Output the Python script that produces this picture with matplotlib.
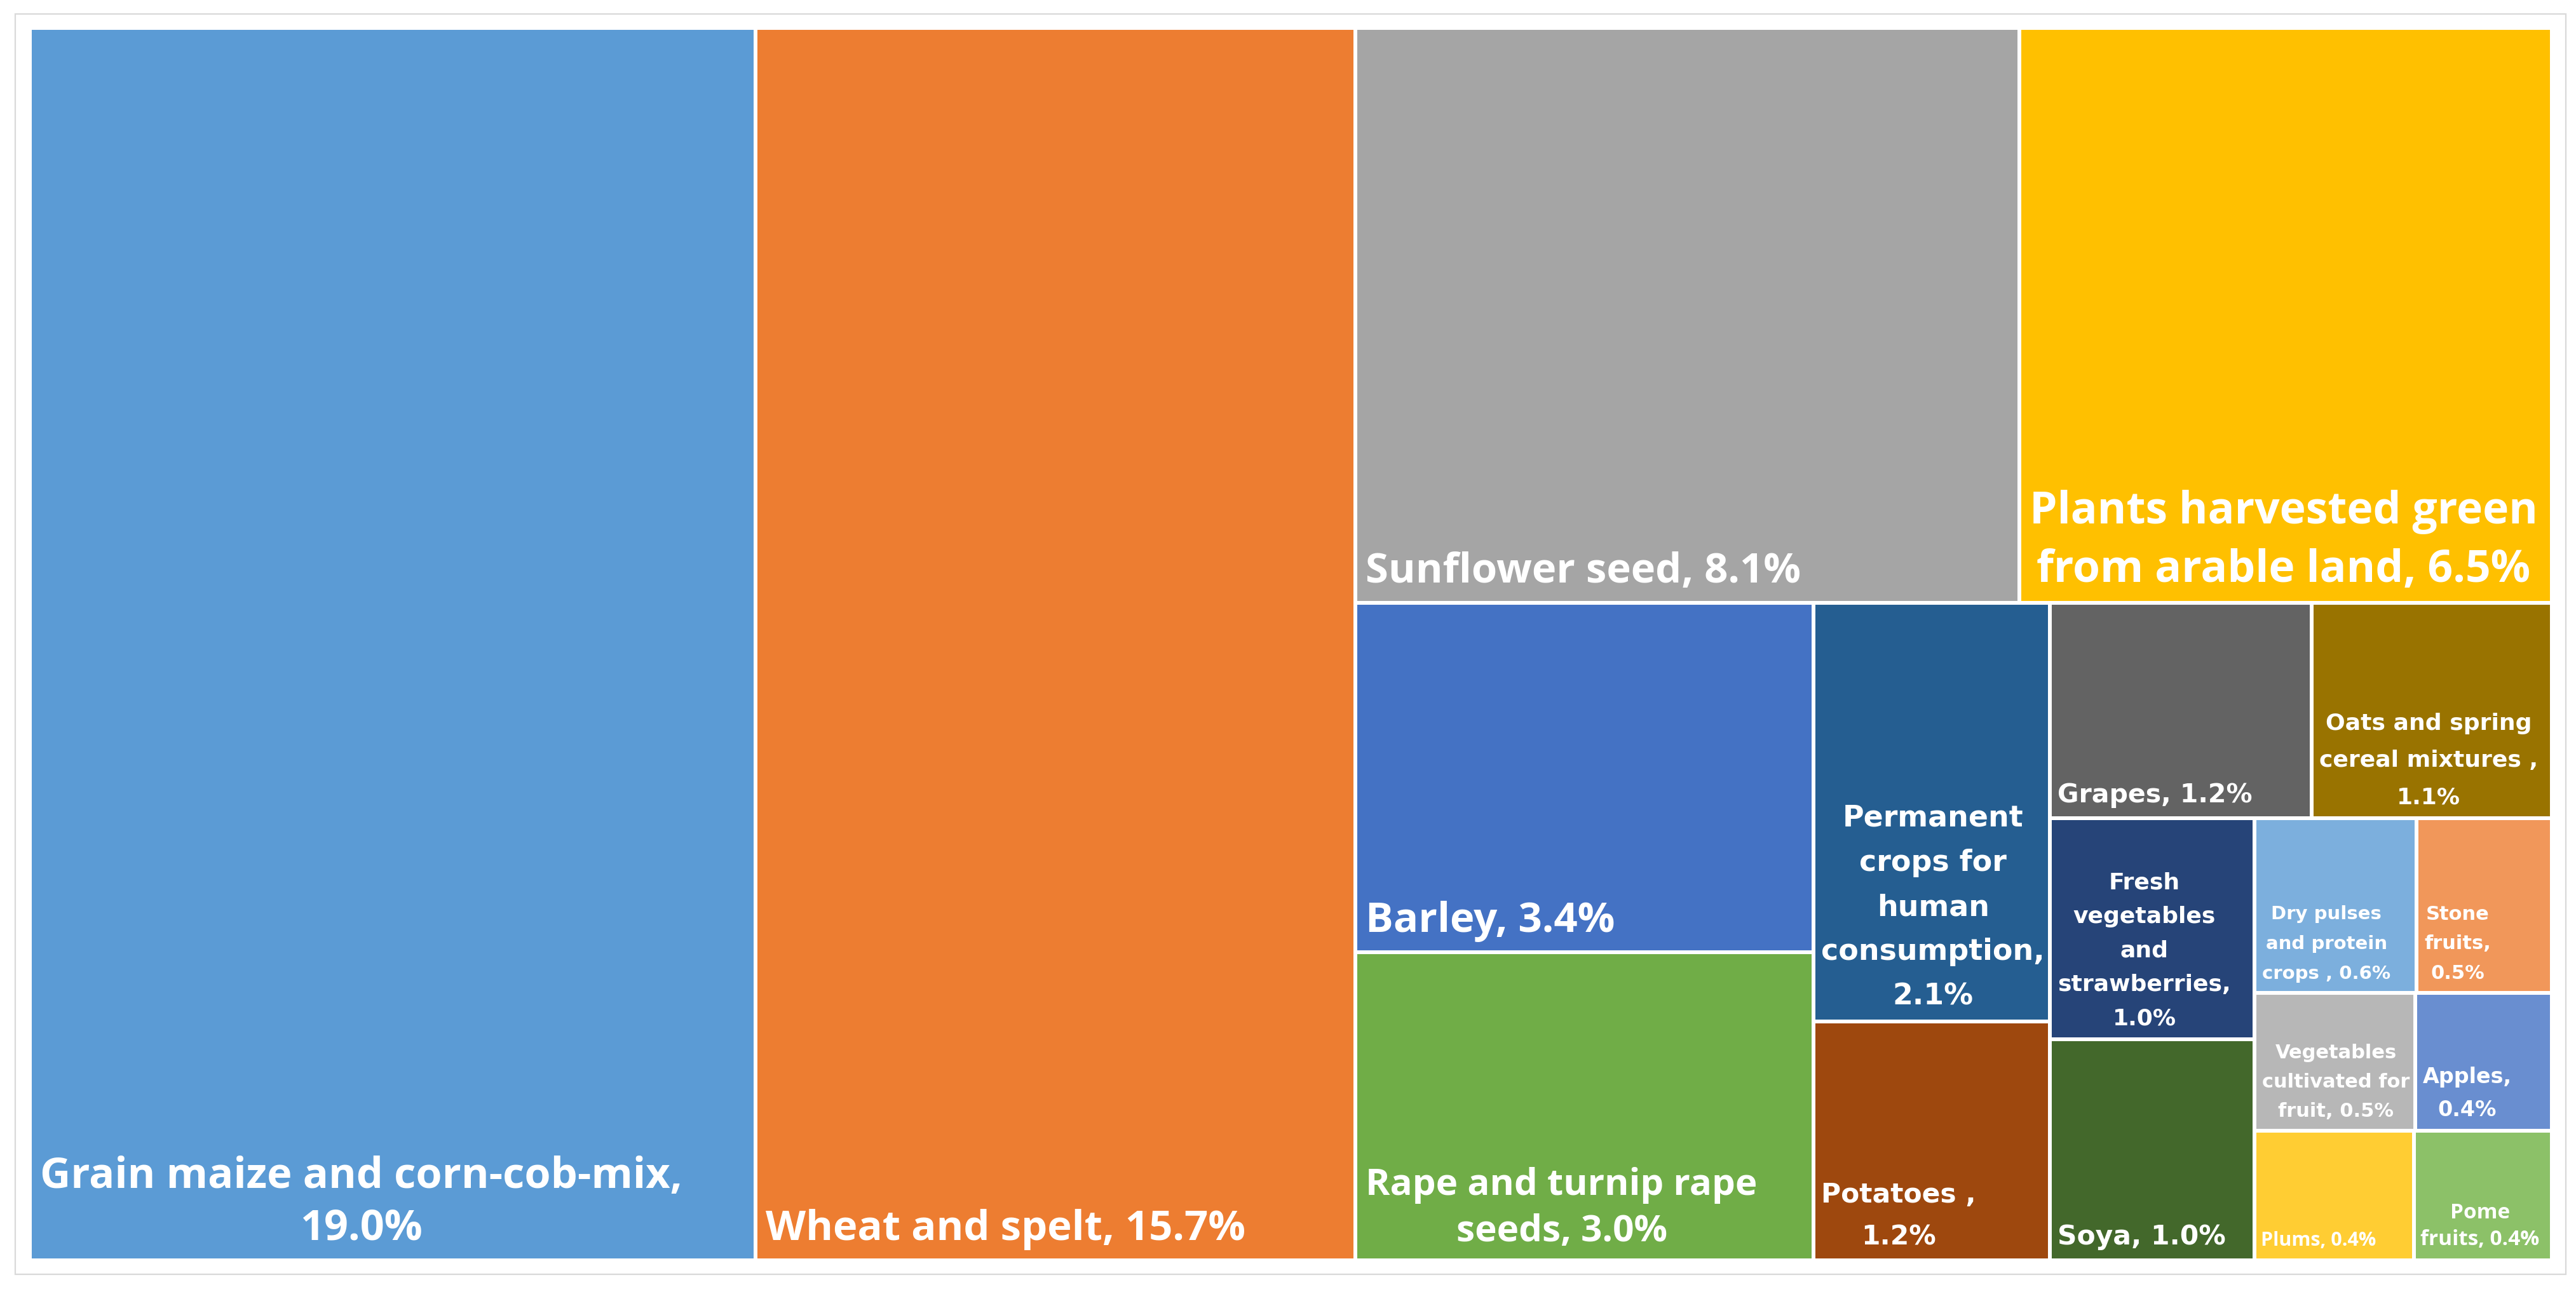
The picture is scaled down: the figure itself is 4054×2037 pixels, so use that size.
import matplotlib
matplotlib.use('Agg')
import matplotlib.pyplot as plt
from matplotlib.patches import Rectangle

# crop shares (% of total), in drawing order; small ones
crops = ['Grain maize and corn-cob-mix', 'Wheat and spelt', 'Sunflower seed',
         'Plants harvested green from arable land', 'Barley', 'Rape and turnip rape seeds',
         'Permanent crops for human consumption', 'Potatoes', 'Grapes',
         'Oats and spring cereal mixtures', 'Fresh vegetables and strawberries', 'Soya',
         'Dry pulses and protein crops', 'Stone fruits', 'Vegetables cultivated for fruit',
         'Apples', 'Plums', 'Pome fruits']
shares = [19.0, 15.7, 8.1, 6.5, 3.4, 3.0, 2.1, 1.2, 1.2, 1.1, 0.96, 0.96,
          0.6, 0.5, 0.47, 0.40, 0.44, 0.38]
labels = ['Grain maize and corn-cob-mix,\n{:.1f}%', 'Wheat and spelt, {:.1f}%',
          'Sunflower seed, {:.1f}%', 'Plants harvested green\nfrom arable land, {:.1f}%',
          'Barley, {:.1f}%', 'Rape and turnip rape\nseeds, {:.1f}%',
          'Permanent\ncrops for\nhuman\nconsumption,\n{:.1f}%', 'Potatoes ,\n{:.1f}%',
          'Grapes, {:.1f}%', 'Oats and spring\ncereal mixtures ,\n{:.1f}%',
          'Fresh\nvegetables\nand\nstrawberries,\n{:.1f}%', 'Soya, {:.1f}%',
          'Dry pulses\nand protein\ncrops , {:.1f}%', 'Stone\nfruits,\n{:.1f}%',
          'Vegetables\ncultivated for\nfruit, {:.1f}%', 'Apples,\n{:.1f}%',
          'Plums, {:.1f}%', 'Pome\nfruits, {:.1f}%']

colors = ['#5B9BD5', '#ED7D31', '#A5A5A5', '#FFC000', '#4472C4', '#70AD47',
          '#255E91', '#9E480E', '#636363', '#997300', '#264478', '#43682B',
          '#7CAFDD', '#F1975A', '#B7B7B7', '#698ED0', '#FFCD33', '#8CC168']
sizes = [48, 47, 47, 50, 47, 42, 33, 30.5, 29.5, 26, 26, 30.5, 21, 22, 22, 24, 22, 24]
fams = ['Open Sans'] * 6 + ['DejaVu Sans'] * 10 + ['Open Sans'] * 2
spacing = [1.3, 1.3, 1.3, 1.4, 1.3, 1.35, 1.72, 1.72, 1.72, 1.9, 1.72, 1.72,
           1.85, 1.75, 1.72, 1.72, 1.35, 1.35]
pads = [16] * 6 + [12] * 10 + [10] * 2

# how the treemap is cut: strips taken from the remaining space
strips = [([0], 'col'), ([1], 'col'), ([2, 3], 'row'), ([4, 5], 'col'),
          ([6, 7], 'col'), ([8, 9], 'row'), ([10, 11], 'col'), ([12, 13], 'row'),
          ([14, 15], 'row'), ([16, 17], 'row')]


def layout(values, strips, x, y, w, h):
    rects = {}
    left = sum(values)
    for idx, kind in strips:
        part = sum(values[i] for i in idx)
        if kind == 'col':
            sw = w * part / left
            yy = y
            for i in idx:
                ih = h * values[i] / part
                rects[i] = (x, yy, sw, ih)
                yy += ih
            x += sw
            w -= sw
        else:
            sh = h * part / left
            xx = x
            for i in idx:
                iw = w * values[i] / part
                rects[i] = (xx, y, iw, sh)
                xx += iw
            y += sh
            h -= sh
        left -= part
    return rects


W, H = 4055, 2037
fig = plt.figure(figsize=(W / 100, H / 100), dpi=100)
ax = fig.add_axes([0, 0, 1, 1])
ax.set_xlim(0, W)
ax.set_ylim(H, 0)
ax.axis('off')

ax.add_patch(Rectangle((24, 22), 4014, 1984, facecolor='white', edgecolor='#D9D9D9', linewidth=1.6))

rects = layout(shares, strips, 47, 44, 3969, 1940)
for i, (x, y, w, h) in rects.items():
    ax.add_patch(Rectangle((x, y), w, h, facecolor=colors[i], edgecolor='white', linewidth=4.3))
    ax.text(x + pads[i], y + h - 16, labels[i].format(shares[i]), ha='left', va='bottom',
            multialignment='center', color='white', fontsize=sizes[i],
            fontweight='bold', family=fams[i], linespacing=spacing[i])

fig.savefig('out.png', dpi=100)
